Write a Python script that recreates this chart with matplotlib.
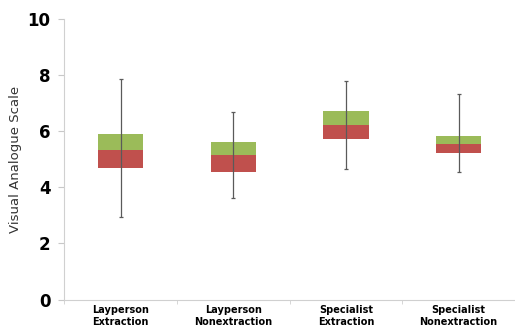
import numpy as np
import matplotlib.pyplot as plt

# box-plot summary
categories = ['Layperson\nExtraction', 'Layperson\nNonextraction',
              'Specialist\nExtraction', 'Specialist\nNonextraction']
whisker_low = [2.95, 3.62, 4.64, 4.53]
q1 = [4.69, 4.53, 5.71, 5.20]
median = [5.31, 5.14, 6.21, 5.52]
q3 = [5.88, 5.62, 6.72, 5.82]
whisker_high = [7.84, 6.66, 7.76, 7.30]

x = np.arange(len(categories))
q1 = np.array(q1)
median = np.array(median)
q3 = np.array(q3)

fig = plt.figure(figsize=(5.15, 3.31), dpi=100)
ax = fig.add_axes([0.125, 0.095, 0.875, 0.849])

ax.bar(x, median - q1, bottom=q1, width=0.4, color='#C0504D', zorder=2)
ax.bar(x, q3 - median, bottom=median, width=0.4, color='#9BBB59', zorder=2)
ax.errorbar(x, median, yerr=[median - np.array(whisker_low), np.array(whisker_high) - median],
            fmt='none', ecolor='#5a5a5a', elinewidth=0.9, capsize=1.5, capthick=0.9, zorder=3)

ax.set_xlim(-0.5, 3.5)
ax.set_ylim(0, 10)
ax.set_yticks([0, 2, 4, 6, 8, 10])
ax.set_xticks(x)
ax.set_xticklabels(categories, fontsize=7, fontweight='bold', linespacing=1.2)
ax.set_xticks(np.arange(-0.5, 4, 1), minor=True)
ax.tick_params(axis='x', which='major', length=0, pad=4)
ax.tick_params(axis='x', which='minor', length=3, color='#d0d0d0')
ax.tick_params(axis='y', length=4, color='#c8c8c8', labelsize=12, pad=6)
for lab in ax.get_yticklabels():
    lab.set_fontweight('bold')

ax.set_ylabel('Visual Analogue Scale', fontsize=9.5, color='#333333', labelpad=4)

for s in ['top', 'right']:
    ax.spines[s].set_visible(False)
for s in ['left', 'bottom']:
    ax.spines[s].set_color('#d0d0d0')

plt.savefig('out.png', dpi=100)
